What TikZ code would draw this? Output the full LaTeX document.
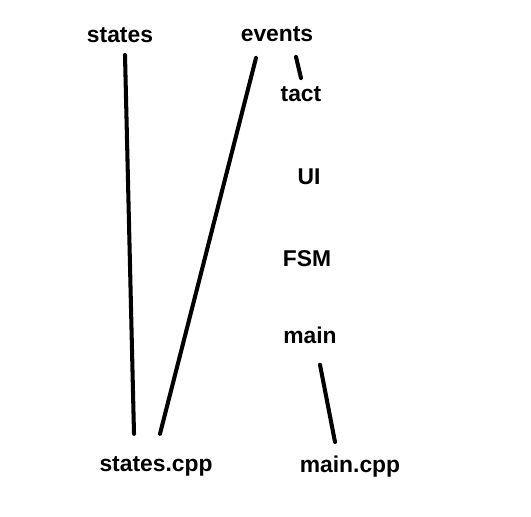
\documentclass[tikz,border=0pt]{standalone}
\usepackage{fontspec}
\setmainfont{Liberation Sans}
\usetikzlibrary{calc}

\begin{document}
\begin{tikzpicture}[
		lbl/.style={inner sep=0pt, font=\fontsize{13}{15}\selectfont\bfseries},
		wire/.style={line width=2.3pt, line cap=round}
	]
		%%%%% START %%%%%
		
		\useasboundingbox (0, 0) rectangle (10.62, 10.34);
		
		\node[lbl] (states) at (2.4, 9.64) {states};
		\node[lbl] (events) at (5.54, 9.66) {events};
		\node[lbl] (tact) at (6.02, 8.46) {tact};
		\node[lbl] (ui) at (6.18, 6.8) {UI};
		\node[lbl] (fsm) at (6.14, 5.16) {FSM};
		\node[lbl] (main) at (6.2, 3.64) {main};
		\node[lbl] (statescpp) at (3.12, 1.02) {states.cpp};
		\node[lbl] (maincpp) at (7.0, 1.0) {main.cpp};
		
		\draw[wire] ($(states.south)+(0.1,-0.24)$) -- ($(statescpp.north)+(-0.44,0.44)$);
		\draw[wire] ($(events.south)+(-0.42,-0.32)$) -- ($(statescpp.north)+(0.08,0.44)$);
		\draw[wire] ($(events.south)+(0.38,-0.3)$) -- ($(tact.north)+(0,0.16)$);
		\draw[wire] ($(main.south)+(0.2,-0.42)$) -- ($(maincpp.north)+(-0.3,0.28)$);
		
		%%%%% END %%%%%
	\end{tikzpicture}
\end{document}
